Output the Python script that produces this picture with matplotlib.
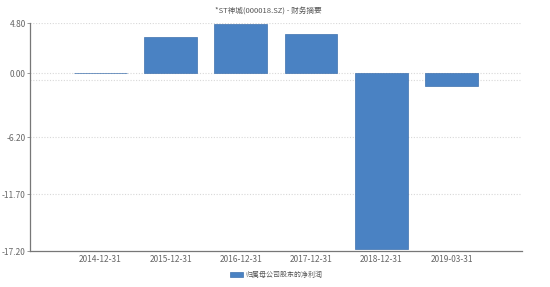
import numpy as np
import matplotlib.pyplot as plt

plt.rcParams['font.family'] = ['Noto Sans CJK SC', 'DejaVu Sans']

dates = ["2014-12-31", "2015-12-31", "2016-12-31", "2017-12-31", "2018-12-31", "2019-03-31"]
profit = [0.03, 3.46, 4.76, 3.79, -17.05, -1.29]
ytick_vals = [4.80, 0.00, -6.20, -11.70, -17.20]
grid_vals = [4.80, 0.00, -0.70, -6.20, -11.70]

title = "*ST神城(000018.SZ) - 财务摘要"
series_name = "归属母公司股东的净利润"

fig = plt.figure(figsize=(5.5, 2.87), dpi=100)
ax = fig.add_axes([0.0545, 0.1254, 0.8945, 0.7946])

x = np.arange(1, len(dates) + 1)
for g in grid_vals:
    ax.axhline(g, color="#d8d8d8", linewidth=0.8, linestyle=(0, (1, 1.5)), zorder=0)
ax.bar(x, profit, width=0.75, color="#4a82c3", edgecolor="#3f71ae", linewidth=0.5,
       label=series_name, zorder=2)

ax.set_xlim(0, len(dates) + 1)
ax.set_ylim(-17.2, 4.85)
ax.set_xticks(x)
ax.set_xticklabels(dates)
ax.set_yticks(ytick_vals)
ax.set_yticklabels(["%.2f" % v for v in ytick_vals])
ax.tick_params(axis="both", labelsize=6, colors="#666666", length=0, pad=3)
ax.tick_params(axis="y", length=2, width=0.6, color="#888888", pad=1)

for s in ["top", "right"]:
    ax.spines[s].set_visible(False)
for s in ["left", "bottom"]:
    ax.spines[s].set_color("#777777")
    ax.spines[s].set_linewidth(0.9)

fig.text(0.488, 0.962, title, ha="center", va="center", fontsize=5.5, color="#555555")
ax.legend(loc="upper center", bbox_to_anchor=(0.5, -0.06), frameon=False,
          fontsize=5, handlelength=1.9, handleheight=0.8, handletextpad=0.3,
          labelcolor="#555555")

plt.savefig("out.png", dpi=100)
